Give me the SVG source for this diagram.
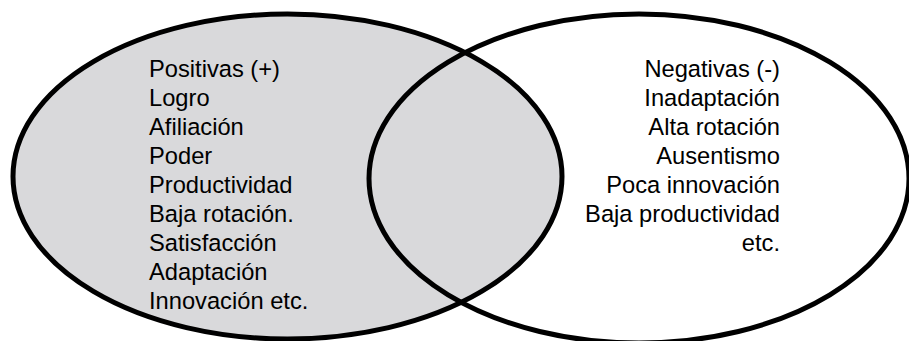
<svg xmlns="http://www.w3.org/2000/svg" width="909" height="341" viewBox="0 0 909 341">
<style>
.t{font-family:"Liberation Sans",Arial,sans-serif;font-size:23.7px;fill:#000}
.o{stroke:#000;stroke-width:5}
</style>
<rect width="909" height="341" fill="#fff"/>
<g id="positivas">
<ellipse cx="287.5" cy="176.5" rx="274.5" ry="162.5" fill="#d9d9db" class="o"/>
</g>
<g id="negativas">
<ellipse cx="639" cy="178.5" rx="270" ry="164.5" fill="none" class="o"/>
</g>
<g id="positivas-text" class="t">
<text x="149" y="77">Positivas (+)</text>
<text x="149" y="106">Logro</text>
<text x="149" y="135">Afiliación</text>
<text x="149" y="164">Poder</text>
<text x="149" y="193">Productividad</text>
<text x="149" y="222">Baja rotación.</text>
<text x="149" y="251">Satisfacción</text>
<text x="149" y="280">Adaptación</text>
<text x="149" y="309">Innovación etc.</text>
</g>
<g id="negativas-text" class="t" text-anchor="end">
<text x="780" y="77">Negativas (-)</text>
<text x="780" y="106">Inadaptación</text>
<text x="780" y="135">Alta rotación</text>
<text x="780" y="164">Ausentismo</text>
<text x="780" y="193">Poca innovación</text>
<text x="780" y="222">Baja productividad</text>
<text x="780" y="251">etc.</text>
</g>
</svg>
